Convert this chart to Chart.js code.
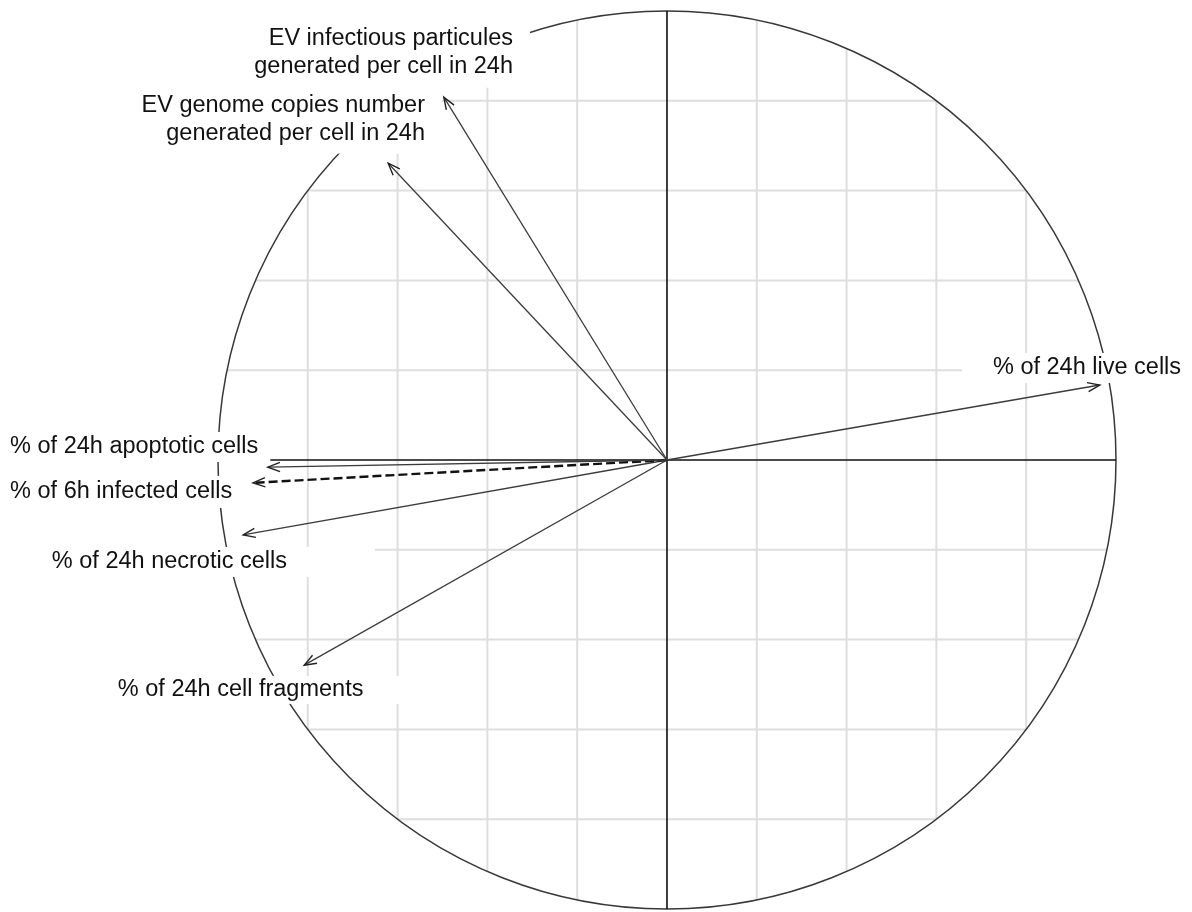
<!DOCTYPE html>
<html>
<head>
<meta charset="utf-8">
<script src="https://cdn.jsdelivr.net/npm/chart.js@4.4.1/dist/chart.umd.min.js"></script>
<style>
  html, body { margin: 0; padding: 0; background: #fff; }
  #wrap { width: 1192px; height: 912px; }
</style>
</head>
<body>
<div id="wrap"><canvas id="circle" width="1192" height="912"></canvas></div>
<script>
// variables and their coordinates on the first two components
const varNames = [
    '% of 24h live cells',
    'EV infectious particules\ngenerated per cell in 24h',
    'EV genome copies number\ngenerated per cell in 24h',
    '% of 24h apoptotic cells',
    '% of 6h infected cells',
    '% of 24h necrotic cells',
    '% of 24h cell fragments'
];
const dim1 = [0.964, -0.497, -0.621, -0.889, -0.922, -0.944, -0.808];
const dim2 = [0.167, 0.808, 0.661, -0.016, -0.051, -0.167, -0.457];
const gridTicks = [-0.8, -0.6, -0.4, -0.2, 0.2, 0.4, 0.6, 0.8];

// where each label sits (axis units) and how far its white box reaches (px)
const labelLayout = [
    { x: 1.145, y: 0.205, align: 'right', padL: 31, padR: 14, half: 15 },
    { x: -0.343, y: 0.907, align: 'right', padL: 17, padR: 17, half: 35 },
    { x: -0.539, y: 0.758, align: 'right', padL: 17, padR: 17, half: 34 },
    { x: -1.463, y: 0.029, align: 'left', padL: 10, padR: 12, half: 15 },
    { x: -1.463, y: -0.071, align: 'left', padL: 10, padR: 12, half: 16 },
    { x: -1.370, y: -0.227, align: 'left', padL: 12, padR: 88, half: 15 },
    { x: -1.223, y: -0.512, align: 'left', padL: 12, padR: 45, half: 14 }
];

const labelFont = '23.5px "Liberation Sans", Arial, sans-serif';
const lineHeight = 28;

const datasets = varNames.map((name, i) => ({
    label: name,
    data: [{ x: 0, y: 0 }, { x: dim1[i], y: dim2[i] }],
    showLine: true,
    borderColor: i === 4 ? '#111' : '#3c3c3c',
    borderWidth: i === 4 ? 2.4 : 1.3,
    borderDash: i === 4 ? [9, 4] : [],
    pointRadius: 0,
    pointHoverRadius: 0
}));

function labelBoxes(chart, fn) {
    const xs = chart.scales.x, ys = chart.scales.y;
    const ctx = chart.ctx;
    ctx.font = labelFont;
    varNames.forEach((name, i) => {
        const lay = labelLayout[i];
        const lines = name.split('\n');
        const w = Math.max(...lines.map(l => ctx.measureText(l).width));
        const px = xs.getPixelForValue(lay.x);
        const py = ys.getPixelForValue(lay.y);
        const left = lay.align === 'right' ? px - w : px;
        fn(ctx, lines, lay, px, py, left, w);
    });
}

const circlePlugin = {
    id: 'corrCircle',
    beforeDatasetsDraw(chart) {
        const ctx = chart.ctx;
        const xs = chart.scales.x, ys = chart.scales.y;
        ctx.save();

        // grid, kept inside the unit circle
        ctx.strokeStyle = '#dedede';
        ctx.lineWidth = 2;
        gridTicks.forEach(v => {
            const h = Math.sqrt(1 - v * v);
            ctx.beginPath();
            ctx.moveTo(xs.getPixelForValue(v), ys.getPixelForValue(-h));
            ctx.lineTo(xs.getPixelForValue(v), ys.getPixelForValue(h));
            ctx.moveTo(xs.getPixelForValue(-h), ys.getPixelForValue(v));
            ctx.lineTo(xs.getPixelForValue(h), ys.getPixelForValue(v));
            ctx.stroke();
        });

        // correlation circle
        const cx = xs.getPixelForValue(0), cy = ys.getPixelForValue(0);
        const rx = xs.getPixelForValue(1) - cx, ry = cy - ys.getPixelForValue(1);
        ctx.strokeStyle = '#383838';
        ctx.lineWidth = 1.5;
        ctx.beginPath();
        ctx.ellipse(cx, cy, rx, ry, 0, 0, Math.PI * 2);
        ctx.stroke();

        // axes
        ctx.strokeStyle = '#111';
        ctx.lineWidth = 1.6;
        ctx.beginPath();
        ctx.moveTo(xs.getPixelForValue(-1), cy);
        ctx.lineTo(xs.getPixelForValue(1), cy);
        ctx.moveTo(cx, ys.getPixelForValue(-1));
        ctx.lineTo(cx, ys.getPixelForValue(1));
        ctx.stroke();

        // white boxes behind the labels
        ctx.fillStyle = '#fff';
        labelBoxes(chart, (c, lines, lay, px, py, left, w) => {
            c.fillRect(left - lay.padL, py - lay.half, w + lay.padL + lay.padR, lay.half * 2);
        });
        ctx.restore();
    },
    afterDatasetsDraw(chart) {
        const ctx = chart.ctx;
        ctx.save();

        // open arrow heads
        ctx.strokeStyle = '#222';
        ctx.lineWidth = 1.4;
        chart.data.datasets.forEach((ds, i) => {
            const pts = chart.getDatasetMeta(i).data;
            const a = pts[0], b = pts[1];
            const ang = Math.atan2(b.y - a.y, b.x - a.x);
            const len = 13, spread = 0.36;
            ctx.beginPath();
            ctx.moveTo(b.x - len * Math.cos(ang - spread), b.y - len * Math.sin(ang - spread));
            ctx.lineTo(b.x, b.y);
            ctx.lineTo(b.x - len * Math.cos(ang + spread), b.y - len * Math.sin(ang + spread));
            ctx.stroke();
        });

        // labels
        ctx.fillStyle = '#111';
        ctx.textBaseline = 'middle';
        labelBoxes(chart, (c, lines, lay, px, py) => {
            c.textAlign = lay.align;
            const top = py - (lines.length - 1) * lineHeight / 2;
            lines.forEach((l, k) => c.fillText(l, px, top + k * lineHeight));
        });
        ctx.restore();
    }
};

new Chart(document.getElementById('circle'), {
    type: 'scatter',
    data: { datasets: datasets },
    options: {
        responsive: false,
        animation: false,
        layout: { padding: 0 },
        plugins: {
            legend: { display: false },
            tooltip: { enabled: false }
        },
        scales: {
            x: { type: 'linear', min: -1.4855, max: 1.1693, display: false },
            y: { type: 'linear', min: -1.0067, max: 1.0245, display: false }
        }
    },
    plugins: [circlePlugin]
});
</script>
</body>
</html>
